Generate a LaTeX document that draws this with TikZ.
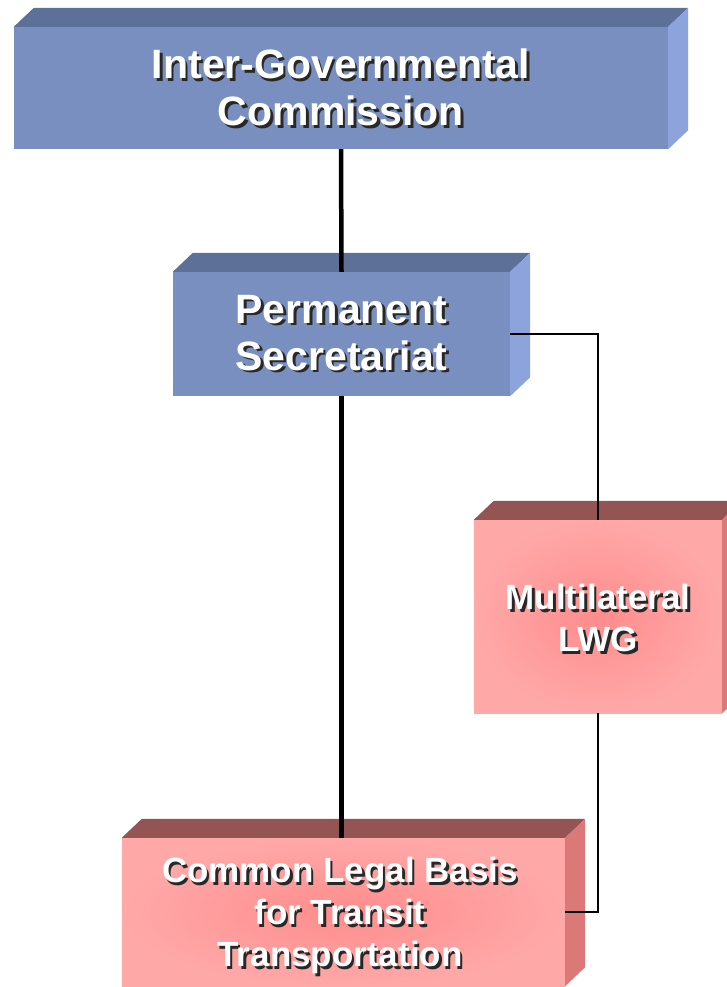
\documentclass[tikz,border=0pt]{standalone}
\usepackage{fontspec}
\setmainfont{Liberation Sans}
\usetikzlibrary{calc}
\definecolor{bfront}{RGB}{120,143,192}
\definecolor{btop}{RGB}{93,112,152}
\definecolor{bside}{RGB}{140,163,219}
\definecolor{pfront}{RGB}{255,168,168}
\definecolor{pcenter}{RGB}{255,140,140}
\definecolor{ptop}{RGB}{148,84,84}
\definecolor{pside}{RGB}{219,120,120}
\definecolor{txtshadow}{RGB}{40,40,40}
\newcommand{\shl}[1]{\leavevmode\rlap{\kern2.5pt\raisebox{-2.5pt}{\textcolor{txtshadow}{#1}}}#1}
\tikzset{
  bluefront/.style={rectangle, inner sep=0pt, fill=bfront},
  pinkfront/.style={rectangle, inner sep=0pt, inner color=pcenter, outer color=pfront},
  bigtxt/.style={align=center, text=white, font=\bfseries\fontsize{41}{47}\selectfont},
  smalltxt/.style={align=center, text=white, font=\bfseries\fontsize{35}{42}\selectfont},
  thickconn/.style={line width=4.5pt, black},
  thinconn/.style={line width=2.7pt, black},
}
\newcommand{\boxfaces}[3]{%
  \fill[#2] (#1.north west) -- ++(20,-19) -- ($(#1.north east)+(20,-19)$) -- (#1.north east) -- cycle;
  \fill[#3] (#1.north east) -- ++(20,-19) -- ($(#1.south east)+(20,-19)$) -- (#1.south east) -- cycle;
}
\begin{document}
\begin{tikzpicture}[x=1pt,y=-1pt]
\useasboundingbox (0,0) rectangle (727,987);
% fronts
\node[bluefront, minimum width=654pt, minimum height=122pt] (igc) at (341,88) {};
\node[bluefront, minimum width=337pt, minimum height=124pt] (ps) at (341.5,334) {};
\node[pinkfront, minimum width=248pt, minimum height=193pt] (lwg) at (598,616.5) {};
\node[pinkfront, minimum width=443pt, minimum height=148pt] (clb) at (343.5,912) {};
% faces
\boxfaces{igc}{btop}{bside}
\boxfaces{ps}{btop}{bside}
\boxfaces{lwg}{ptop}{pside}
\boxfaces{clb}{ptop}{pside}
% connectors
\draw[thickconn] (igc.south) -- (ps.north);
\draw[thickconn] (ps.south) -- (ps.south |- clb.north);
\draw[thinconn] (ps.east) -| (lwg.north);
\draw[thinconn] (lwg.south) |- (clb.east);
% texts
\node[bigtxt] (igct) at ($(igc.center)+(0,1)$) {\shl{Inter-Governmental}\\\shl{Commission}};
\node[bigtxt] (pst) at (ps.center) {\shl{Permanent}\\\shl{Secretariat}};
\node[smalltxt] (lwgt) at ($(lwg.center)+(0,3)$) {\shl{Multilateral}\\\shl{LWG}};
\node[smalltxt] (clbt) at ($(clb.center)+(-3.5,5)$) {\shl{Common Legal Basis}\\\shl{for Transit}\\\shl{Transportation}};
\end{tikzpicture}
\end{document}
